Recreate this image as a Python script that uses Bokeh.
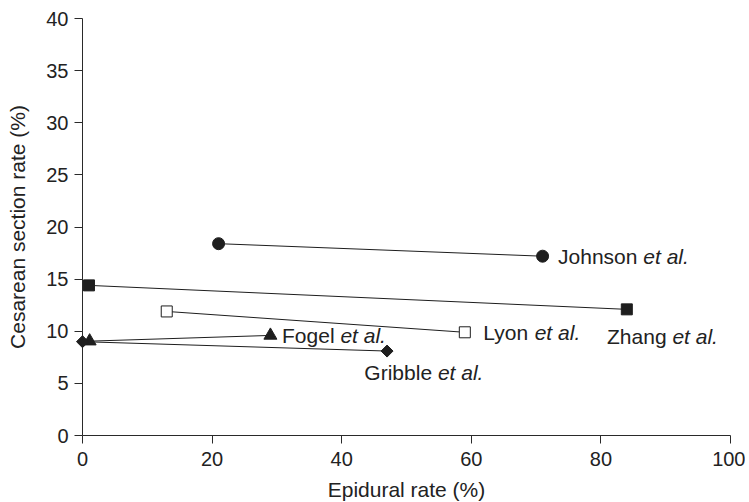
import math
from bokeh.plotting import figure
from bokeh.models import Range1d, ColumnDataSource
from bokeh.core.properties import value
from bokeh.embed import file_html
from bokeh.resources import INLINE

# ---- data ----
studies = ["Johnson", "Zhang", "Lyon", "Fogel", "Gribble"]
epidural_low = [21.0, 1.0, 13.0, 1.1, 0.0]
epidural_high = [71.0, 84.0, 59.0, 29.0, 47.0]
cesarean_low = [18.4, 14.4, 11.9, 9.05, 9.0]
cesarean_high = [17.2, 12.1, 9.9, 9.6, 8.1]
x_ticks = [0, 20, 40, 60, 80, 100]
y_ticks = [0, 5, 10, 15, 20, 25, 30, 35, 40]
x_title = "Epidural rate (%)"
y_title = "Cesarean section rate (%)"
suffix = "et al."

# ---- styles ----
FONT = "Liberation Sans"
INK = "#1e1e1e"
markers = {
    "Johnson": dict(marker="circle", size=12, fill_color=INK, angle=0.0),
    "Zhang": dict(marker="square", size=11, fill_color=INK, angle=0.0),
    "Lyon": dict(marker="square", size=11, fill_color="white", angle=0.0),
    "Fogel": dict(marker="triangle", size=13, fill_color=INK, angle=0.0),
    "Gribble": dict(marker="square", size=8.5, fill_color=INK, angle=math.pi / 4),
}
label_offsets = {  # screen px from the right-hand point
    "Johnson": (15.5, 0),
    "Zhang": (-19.8, 27),
    "Lyon": (18.5, 0),
    "Fogel": (11.6, 0),
    "Gribble": (-22.7, 21.4),
}
LABEL_SIZE = 21
# Arial/Liberation Sans advance widths (1/1000 em)
adv = {" ": 278, "J": 500, "o": 556, "h": 556, "n": 556, "s": 500, "Z": 611,
       "a": 556, "g": 556, "L": 556, "y": 500, "F": 611, "e": 556, "l": 222,
       "G": 778, "r": 333, "i": 222, "b": 556, "t": 278, ".": 278}


def text_width(s, size):
    return sum(adv.get(c, 556) for c in s) / 1000.0 * size


p = figure(frame_width=648, frame_height=417,
           x_range=Range1d(0, 100), y_range=Range1d(0, 40),
           output_backend="svg", toolbar_location=None,
           min_border_left=82, min_border_right=15, min_border_top=18, min_border_bottom=65)
p.outline_line_color = None
p.xgrid.visible = False
p.ygrid.visible = False
p.background_fill_color = "white"
p.border_fill_color = "white"

# connecting lines
p.segment(x0=epidural_low, y0=cesarean_low, x1=epidural_high, y1=cesarean_high,
          line_color=INK, line_width=1)

# markers
for i, s in enumerate(studies):
    m = markers[s]
    src = ColumnDataSource(dict(x=[epidural_low[i], epidural_high[i]],
                                y=[cesarean_low[i], cesarean_high[i]]))
    p.scatter("x", "y", source=src, marker=m["marker"], size=m["size"], angle=m["angle"],
              fill_color=m["fill_color"], line_color=INK, line_width=1, level="overlay")

# labels
for i, s in enumerate(studies):
    dx, dy = label_offsets[s]
    p.text(x=[epidural_high[i]], y=[cesarean_high[i]], text=[s],
           x_offset=dx, y_offset=dy, text_align="left", text_baseline="middle",
           text_font=value(FONT), text_font_size=f"{LABEL_SIZE}px", text_color="#222222")
    p.text(x=[epidural_high[i]], y=[cesarean_high[i]], text=[suffix],
           x_offset=dx + text_width(s + " ", LABEL_SIZE), y_offset=dy,
           text_align="left", text_baseline="middle",
           text_font=value(FONT), text_font_style="italic",
           text_font_size=f"{LABEL_SIZE}px", text_color="#222222")

# axes
p.xaxis.ticker = x_ticks
p.yaxis.ticker = y_ticks
p.xaxis.axis_label = x_title
p.yaxis.axis_label = y_title
for ax in (p.xaxis[0], p.yaxis[0]):
    ax.axis_line_color = "#2a2a2a"
    ax.axis_line_width = 1
    ax.major_tick_line_color = "#2a2a2a"
    ax.major_tick_in = 0
    ax.major_tick_out = 8
    ax.minor_tick_line_color = None
    ax.major_label_text_font = FONT
    ax.major_label_text_font_size = "20px"
    ax.major_label_text_color = "#222222"
    ax.axis_label_text_font = FONT
    ax.axis_label_text_font_size = "21px"
    ax.axis_label_text_font_style = "normal"
    ax.axis_label_text_color = "#222222"
p.xaxis.major_label_standoff = 8
p.xaxis.axis_label_standoff = 9
p.yaxis.major_label_standoff = 6
p.yaxis.axis_label_standoff = 14

open("out.html", "w").write(file_html(p, INLINE))
